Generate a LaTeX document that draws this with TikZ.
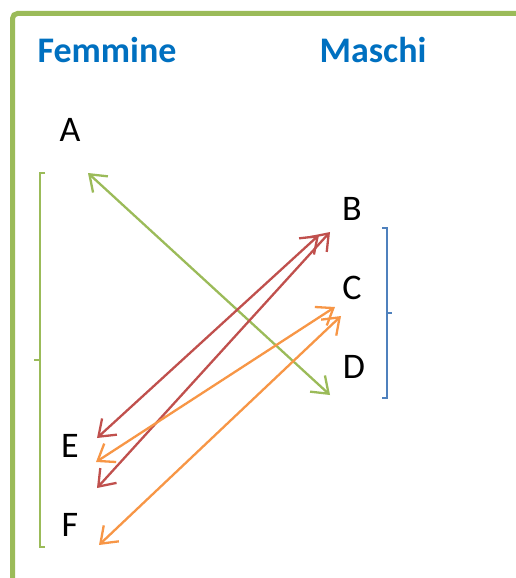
\documentclass[tikz,border=0pt]{standalone}
\usepackage{fontspec}
\setmainfont{Carlito}
\usepackage{xcolor}
\definecolor{FrameGreen}{RGB}{155, 187, 89}
\definecolor{PairRed}{RGB}{192, 80, 77}
\definecolor{PairOrange}{RGB}{247, 150, 70}
\definecolor{GroupBlue}{RGB}{79, 129, 189}
\definecolor{TitleBlue}{RGB}{0, 112, 192}
\usetikzlibrary{arrows.meta, positioning}

\begin{document}
\begin{tikzpicture}[
        x=1pt, y=-1pt,
        title/.style={font=\fontsize{36}{40}\selectfont\bfseries, text=TitleBlue, inner sep=0pt},
        letter/.style={font=\fontsize{36}{40}\selectfont, inner sep=0pt},
        pair/.style={{Straight Barb[length=15pt, width=22pt]}-{Straight Barb[length=15pt, width=22pt]}, line width=2.3pt},
        brace/.style={line width=1.6pt}
    ]
        \useasboundingbox (0,0) rectangle (516,578);

        % Frame
        \draw[FrameGreen, line width=5pt, rounded corners=5pt] (12.5,590) -- (12.5,13.5) -- (530,13.5);

        % Nodes
        \node[title] (femmine) at (107,50) {Femmine};
        \node[title] (maschi) at (373,50) {Maschi};
        \node[letter] (A) at (70,130) {A};
        \node[letter] (B) at (352,209) {B};
        \node[letter] (C) at (352,288) {C};
        \node[letter] (D) at (354,367) {D};
        \node[letter] (E) at (70,446) {E};
        \node[letter] (F) at (70,525) {F};

        % Arrow ends
        \coordinate (a1) at (88,173);
        \coordinate (d1) at (330,395);
        \coordinate (b1) at (319,235);
        \coordinate (b2) at (330,232);
        \coordinate (c1) at (335,307);
        \coordinate (c2) at (341,316);
        \coordinate (e1) at (97,438);
        \coordinate (e2) at (96,462);
        \coordinate (e3) at (97,488);
        \coordinate (f1) at (99,545);

        % Connections
        \draw[pair, FrameGreen] (a1) -- (d1);
        \draw[pair, PairRed] (e1) -- (b1);
        \draw[pair, PairRed] (e3) -- (b2);
        \draw[pair, PairOrange] (e2) -- (c1);
        \draw[pair, PairOrange] (f1) -- (c2);

        % Brackets
        \draw[brace, FrameGreen] (45,173) -- (40,173) -- (40,547) -- (45,547);
        \draw[brace, FrameGreen] (40,360) -- (34,360);
        \draw[brace, GroupBlue] (382,228) -- (387,228) -- (387,398) -- (382,398);
        \draw[brace, GroupBlue] (387,313) -- (392,313);
    \end{tikzpicture}
\end{document}
